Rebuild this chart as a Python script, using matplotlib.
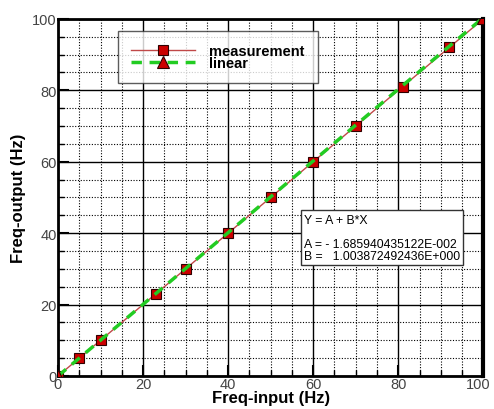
import matplotlib.pyplot as plt
import matplotlib.transforms as mtransforms
import numpy as np
from matplotlib.ticker import MultipleLocator

plt.rcParams['font.family'] = ['Liberation Sans', 'DejaVu Sans']

# measured frequency pairs (Hz)
freq_in = [0, 5, 10, 23, 30, 40, 50, 60, 70, 81, 92, 100]
freq_out = [0, 5, 10, 23, 30, 40, 50, 60, 70, 81, 92, 100]

# linear fit Y = A + B*X
A = -1.685940435122e-002
B = 1.003872492436e+000
fit_x = np.array([0, 100])
fit_y = A + B * fit_x

fig = plt.figure(figsize=(4.94, 4.10), dpi=100)
ax = fig.add_axes([0.1174, 0.0805, 0.861, 0.871])

ax.plot(freq_in, freq_out, color='#c04848', lw=1.0, marker='s', ms=7,
        mfc='#cc0000', mec='#300000', mew=0.8, label='measurement', zorder=4)
ax.plot(fit_x, fit_y, color='#22cc22', lw=2.5, ls=(0, (3, 2.2)), marker='^', ms=8,
        mfc='#cc0000', mec='#300000', mew=0.8, label='linear', zorder=5)

ax.set_xlim(0, 100)
ax.set_ylim(0, 100)
ax.set_xticks([0, 20, 40, 60, 80, 100])
ax.set_yticks([0, 20, 40, 60, 80, 100])
ax.xaxis.set_minor_locator(MultipleLocator(5))
ax.yaxis.set_minor_locator(MultipleLocator(5))
ax.grid(which='major', color='black', lw=1.0, ls='-')
ax.grid(which='minor', color='black', lw=0.8, ls=(0, (1, 1.5)))
ax.set_axisbelow(True)
ax.tick_params(which='major', direction='in', length=8, width=1.5, labelsize=10.5,
               labelcolor='#444444', pad=1)
ax.tick_params(which='minor', direction='in', length=4, width=1)
for s in ax.spines.values():
    s.set_linewidth(2)
    s.set_color('black')
ax.spines['right'].set_linewidth(3)

# nudge the "100" label on the x axis so it stays inside the figure
fig.canvas.draw()
for lab in ax.get_xticklabels():
    if lab.get_text() == '100':
        lab.set_transform(lab.get_transform() + mtransforms.ScaledTranslation(-5 / 100, 0, fig.dpi_scale_trans))

ax.set_xlabel('Freq-input (Hz)', fontsize=12, fontweight='bold', labelpad=-1)
ax.set_ylabel('Freq-output (Hz)', fontsize=12, fontweight='bold', labelpad=4)

leg = ax.legend(loc='upper left', bbox_to_anchor=(0.14, 0.967), prop={'weight': 'bold', 'size': 10.5},
                frameon=True, fancybox=False, edgecolor='#333333', handlelength=4.4,
                labelspacing=-0.1, borderpad=0.9, handletextpad=1.0, borderaxespad=0)
leg.get_frame().set_linewidth(1.0)

ax.text(0.578, 0.455, 'Y = A + B*X\n\nA = - 1.685940435122E-002\nB =   1.003872492436E+000',
        transform=ax.transAxes, fontsize=8.8, linespacing=1.0, va='top', ha='left',
        bbox=dict(boxstyle='square,pad=0.25', fc='white', ec='#333333', lw=1), zorder=6)

fig.savefig('out.png', dpi=100)
